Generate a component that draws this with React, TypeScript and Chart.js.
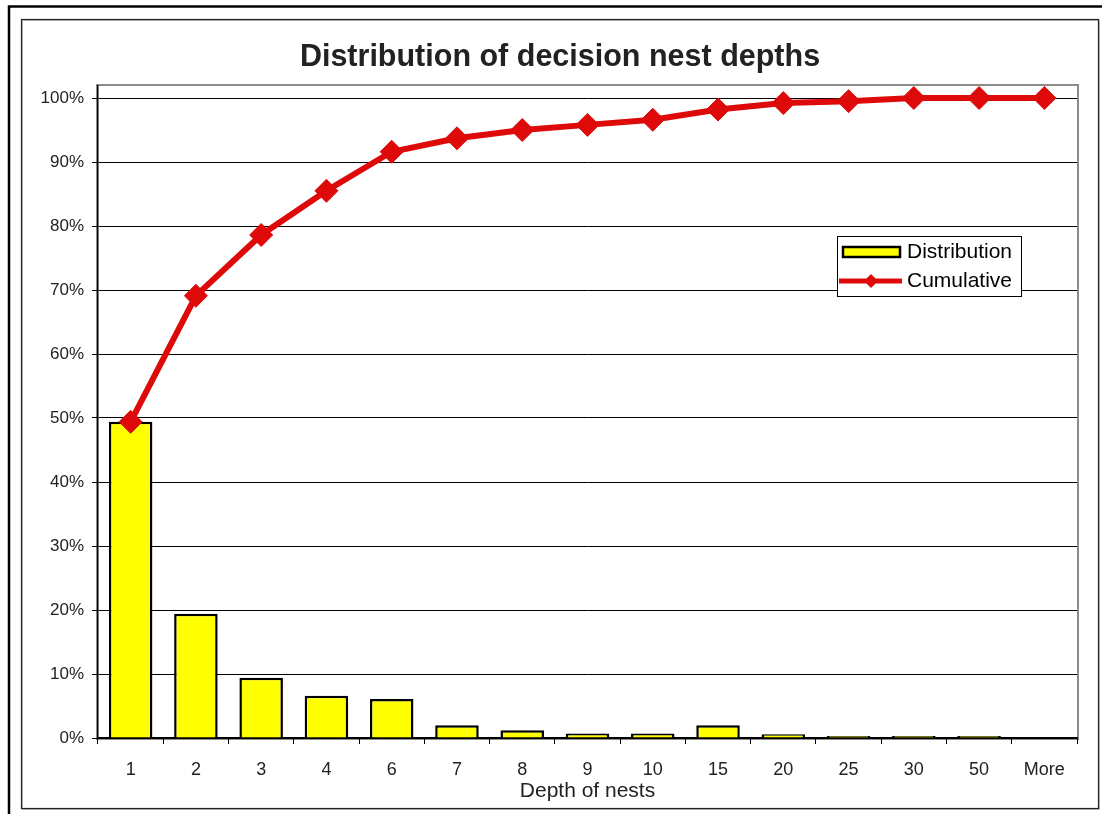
import React, { useEffect, useRef } from 'react';
import { Chart, registerables } from 'chart.js';

Chart.register(...registerables);

const categories = ['1', '2', '3', '4', '6', '7', '8', '9', '10', '15', '20', '25', '30', '50', 'More'];
const distribution = [0.494, 0.194, 0.094, 0.066, 0.061, 0.02, 0.012, 0.007, 0.007, 0.02, 0.006, 0.003, 0.003, 0.003, 0];
const cumulative = [0.494, 0.691, 0.786, 0.855, 0.916, 0.937, 0.95, 0.958, 0.966, 0.982, 0.992, 0.995, 1.0, 1.0, 1.0];
const seriesNames = ['Distribution', 'Cumulative'];
const chartTitle = 'Distribution of decision nest depths';
const xAxisTitle = 'Depth of nests';

const W = 1102;
const H = 814;
const FONT = '"Liberation Sans", Arial, sans-serif';
const YELLOW = '#FFFF00';
const RED = '#DE0A0A';

export default function App() {
  const ref = useRef<HTMLCanvasElement>(null);

  useEffect(() => {
    document.body.style.margin = '0';
    const canvas = ref.current!;

    const framePlugin = {
      id: 'frames',
      beforeDraw(chart: any) {
        const { ctx, chartArea: a } = chart;
        ctx.save();
        ctx.fillStyle = '#fff';
        ctx.fillRect(0, 0, W, H);
        // outer thick frame
        ctx.strokeStyle = '#000';
        ctx.lineWidth = 2.5;
        ctx.beginPath();
        ctx.moveTo(W, 6.5);
        ctx.lineTo(9, 6.5);
        ctx.lineTo(9, H);
        ctx.stroke();
        // inner chart frame
        ctx.strokeStyle = '#bbb';
        ctx.lineWidth = 1;
        ctx.strokeRect(22.5, 20.5, 1077, 789);
        ctx.strokeStyle = '#222';
        ctx.lineWidth = 1.2;
        ctx.strokeRect(21.5, 19.5, 1077, 789);
        // plot area gray frame
        ctx.strokeStyle = '#8c8c8c';
        ctx.lineWidth = 2;
        ctx.strokeRect(a.left - 1, a.top - 1, a.right - a.left + 2, a.bottom - a.top + 2);
        // title
        ctx.fillStyle = '#222';
        ctx.font = `bold 30.5px ${FONT}`;
        ctx.textAlign = 'center';
        ctx.textBaseline = 'middle';
        ctx.fillText(chartTitle, 560, 58);
        ctx.restore();
      },
      afterDraw(chart: any) {
        const { ctx } = chart;
        ctx.save();
        const lx = 837.5, ly = 236.5, lw = 184, lh = 60;
        ctx.fillStyle = '#fff';
        ctx.fillRect(lx, ly, lw, lh);
        ctx.strokeStyle = '#000';
        ctx.lineWidth = 1;
        ctx.strokeRect(lx, ly, lw, lh);
        // bar swatch
        ctx.fillStyle = YELLOW;
        ctx.fillRect(843, 247, 57, 10);
        ctx.lineWidth = 2.5;
        ctx.strokeRect(843, 247, 57, 10);
        // line swatch
        ctx.strokeStyle = RED;
        ctx.lineWidth = 5;
        ctx.beginPath();
        ctx.moveTo(839, 281);
        ctx.lineTo(902, 281);
        ctx.stroke();
        ctx.fillStyle = RED;
        ctx.beginPath();
        ctx.moveTo(871, 274);
        ctx.lineTo(878, 281);
        ctx.lineTo(871, 288);
        ctx.lineTo(864, 281);
        ctx.closePath();
        ctx.fill();
        // texts
        ctx.fillStyle = '#000';
        ctx.font = `21px ${FONT}`;
        ctx.textBaseline = 'middle';
        ctx.textAlign = 'left';
        ctx.fillText(seriesNames[0], 907, 252);
        ctx.fillText(seriesNames[1], 907, 281);
        ctx.restore();
      },
    };

    const chart = new Chart(canvas, {
      type: 'bar',
      data: {
        labels: categories,
        datasets: [
          {
            type: 'line',
            label: seriesNames[1],
            data: cumulative,
            borderColor: RED,
            backgroundColor: RED,
            borderWidth: 6,
            pointStyle: 'rectRot',
            pointRadius: 11.5,
            pointBackgroundColor: RED,
            pointBorderColor: RED,
            pointBorderWidth: 1,
            tension: 0,
            order: 1,
            clip: false,
          } as any,
          {
            type: 'bar',
            label: seriesNames[0],
            data: distribution,
            backgroundColor: YELLOW,
            borderColor: '#000',
            borderWidth: distribution.map((v) => (v === 0 ? 0 : 2.5)),
            borderSkipped: 'start',
            categoryPercentage: 1,
            barPercentage: 0.667,
            order: 2,
          } as any,
        ],
      },
      options: {
        responsive: false,
        animation: false,
        layout: { padding: { left: 0, right: 25, top: 86, bottom: 0 } },
        plugins: {
          legend: { display: false },
          tooltip: { enabled: false },
          title: { display: false },
        },
        scales: {
          x: {
            type: 'category',
            offset: true,
            grid: {
              drawOnChartArea: false,
              offset: true,
              tickLength: 6,
              color: '#000',
            },
            border: { color: '#000', width: 1.5 },
            ticks: {
              color: '#222',
              font: { family: FONT, size: 18 },
              padding: 15,
              maxRotation: 0,
              autoSkip: false,
            },
            title: {
              display: true,
              text: xAxisTitle,
              color: '#222',
              font: { family: FONT, size: 21 },
              padding: { top: 0, bottom: 10 },
            },
            afterFit: (s: any) => {
              s.height = 76;
            },
          },
          y: {
            min: 0,
            max: 1.01875,
            grid: { color: '#000', lineWidth: 1, tickLength: 6 },
            border: { color: '#000', width: 1.5 },
            ticks: {
              stepSize: 0.1,
              includeBounds: false,
              color: '#222',
              font: { family: FONT, size: 17 },
              padding: 8,
              callback: (v: any) => `${Math.round(Number(v) * 100)}%`,
            },
            afterBuildTicks: (axis: any) => {
              axis.ticks = axis.ticks.filter((t: any) => t.value <= 1.0001);
            },
            afterFit: (s: any) => {
              s.width = 98;
            },
          },
        },
      },
      plugins: [framePlugin],
    });

    return () => chart.destroy();
  }, []);

  return (
    <div style={{ position: 'absolute', left: 0, top: 0, width: W, height: H }}>
      <canvas ref={ref} width={W} height={H} style={{ display: 'block', width: W, height: H }} />
    </div>
  );
}
